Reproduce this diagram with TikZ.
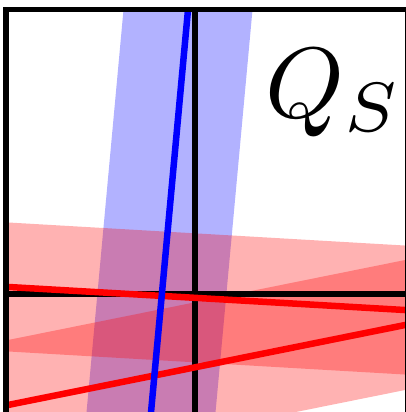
\documentclass[tikz,border=0pt]{standalone}
\begin{document}
\begin{tikzpicture}[x=1pt,y=-1pt,
  band/.style={fill opacity=0.3},
  axisline/.style={draw=black,line width=5.5pt},
  fitline/.style={line width=6.5pt}]
\useasboundingbox (0,0) rectangle (405,412);
\begin{scope}
  \clip (5.8,9.7) rectangle (408,414.5);
  % blue band
  \fill[band,blue] (188.9-64.5,0) -- (188.9+64.5,0) -- (150.3+64.5,420) -- (150.3-64.5,420) -- cycle;
  % red bands
  \fill[band,red] (0,286.5-64.5) -- (420,310.9-64.5) -- (420,310.9+64.5) -- (0,286.5+64.5) -- cycle;
  \fill[band,red] (0,406.6-65) -- (420,322.0-65) -- (420,322.0+65) -- (0,406.6+65) -- cycle;
  % axes
  \draw[axisline] (195,0) -- (195,420);
  \draw[axisline] (0,294) -- (420,294);
  % red lines
  \draw[fitline,red] (0,286.5) -- (420,310.9);
  \draw[fitline,red] (0,406.6) -- (420,322.0);
  % blue line
  \draw[fitline,blue] (188.9,0) -- (150.3,420);
\end{scope}
% frame
\draw[line width=5.5pt] (5.8,9.7) rectangle (408,414.5);
\node[anchor=base west,inner sep=0pt,scale=10] (qs) at (263,117) {$Q_S$};
\end{tikzpicture}
\end{document}
